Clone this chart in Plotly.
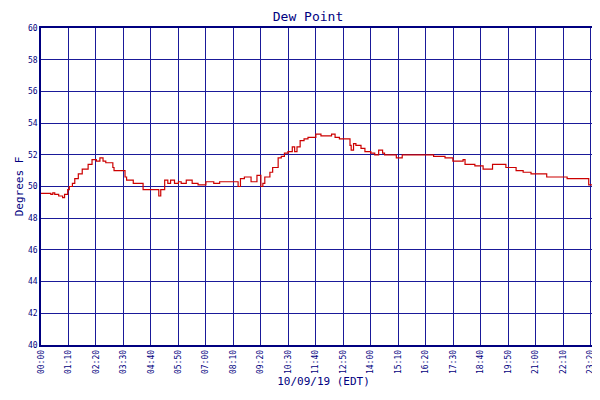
import plotly.graph_objects as go

# minutes since midnight, dew point (F)
minutes = [0, 25, 30, 35, 45, 55, 60, 68, 72, 80, 86, 95, 105, 120, 130, 141, 150, 158, 165, 183,
           186, 210, 214, 218, 230, 235, 247, 260, 272, 300, 305, 315, 323, 330, 340, 350, 357,
           370, 385, 400, 420, 440, 455, 470, 490, 502, 508, 518, 535, 550, 560, 565, 570, 583,
           590, 604, 612, 620, 629, 640, 646, 652, 660, 670, 680, 690, 700, 713, 721, 740, 749,
           760, 774, 787, 790, 796, 802, 815, 825, 840, 850, 860, 870, 875, 889, 905, 920, 930,
           952, 990, 1000, 1029, 1049, 1075, 1080, 1105, 1126, 1146, 1150, 1184, 1210, 1220,
           1228, 1248, 1276, 1288, 1309, 1330, 1340, 1368, 1395, 1411, 1439]
dewpoint = [49.57, 49.57, 49.5, 49.6, 49.5, 49.4, 49.3, 49.5, 49.8, 50.0, 50.2, 50.5, 50.8, 51.1, 51.4, 51.7, 51.6, 51.8, 51.6, 51.5,
            51.2, 51.0, 51.0, 50.6, 50.4, 50.4, 50.2, 50.2, 49.8, 49.8, 49.4, 49.8, 50.4, 50.2, 50.4, 50.2, 50.3,
            50.2, 50.4, 50.2, 50.1, 50.3, 50.2, 50.3, 50.3, 50.3, 50.0, 50.5, 50.6, 50.3, 50.7, 50.0, 50.2, 50.6,
            50.9, 51.2, 51.8, 51.9, 52.1, 52.2, 52.5, 52.2, 52.5, 52.9, 53.0, 53.1, 53.1, 53.3, 53.2, 53.2, 53.3,
            53.1, 53.0, 53.0, 52.6, 52.3, 52.7, 52.6, 52.4, 52.2, 52.1, 52.0, 52.3, 52.1, 52.0, 52.0, 51.8, 52.0,
            52.0, 52.0, 52.0, 51.9, 51.8, 51.6, 51.7, 51.4, 51.3, 51.1, 51.1, 51.4, 51.2, 51.0,
            51.0, 50.9, 50.8, 50.8, 50.6, 50.6, 50.6, 50.5, 50.5, 50.1, 50.1]

tick_vals = [0, 70, 140, 210, 280, 350, 420, 490, 560, 630, 700, 770, 840, 910, 980, 1050,
             1120, 1190, 1260, 1330, 1400, 1439]
tick_text = ["00:00", "01:10", "02:20", "03:30", "04:40", "05:50", "07:00", "08:10", "09:20",
             "10:30", "11:40", "12:50", "14:00", "15:10", "16:20", "17:30", "18:40", "19:50",
             "21:00", "22:10", "23:20", "23:59"]

navy = "#000080"
grid = "#1a1a99"
fig = go.Figure()
fig.add_trace(go.Scatter(x=minutes, y=dewpoint, mode="lines", line_shape="vh",
                         line=dict(color="#cc0000", width=1.2), name="Dew Point"))

fig.update_layout(
    width=600, height=400,
    margin=dict(l=33, r=2, t=20, b=63, autoexpand=False),
    paper_bgcolor="white", plot_bgcolor="white",
    font=dict(family="DejaVu Sans Mono", color=navy, size=10),
    title=dict(text="Dew Point", x=0.5, y=0.99, xanchor="center", yanchor="top",
               font=dict(size=13, color=navy)),
    showlegend=True,
    legend=dict(orientation="h", x=0.5, xanchor="center", y=-0.17, yanchor="top",
                font=dict(size=9)),
)
fig.update_xaxes(range=[0, 1439], tickvals=tick_vals, ticktext=tick_text, tickangle=-90,
                 tickfont=dict(size=8), showgrid=True, gridcolor=grid, gridwidth=1,
                 showline=True, linecolor=navy, mirror=True, linewidth=1.5, automargin=False,
                 title=dict(text="10/09/19 (EDT)", font=dict(size=11), standoff=4))
fig.update_yaxes(range=[40, 60], dtick=2, tickfont=dict(size=8), showgrid=True,
                 gridcolor=grid, gridwidth=1, showline=True, linecolor=navy, mirror=True,
                 linewidth=1.5, automargin=False,
                 title=dict(text="Degrees F", font=dict(size=11), standoff=2))

fig.write_html("out.html")
